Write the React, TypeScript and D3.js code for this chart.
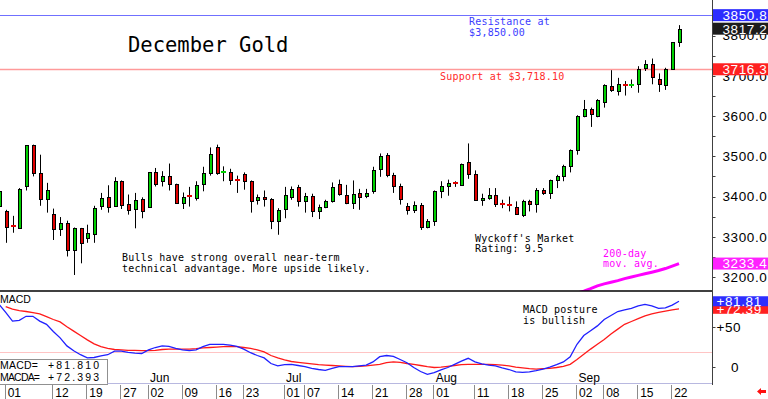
import * as d3 from "d3";

const W = 768;
const H = 399;

// bars start on Apr 30 (index -1), index 0 = May 01, last bar = Sep 23
const FIRST = -1;

const opens = [3377, 3365, 3326, 3323, 3427, 3527, 3459, 3394, 3357, 3319, 3335, 3266, 3321, 3296, 3306, 3377, 3400, 3377, 3438, 3382, 3370, 3394,
  3375, 3460, 3438, 3450, 3431, 3385, 3401, 3396, 3432, 3459, 3522, 3459, 3460, 3441, 3456, 3438, 3392, 3400, 3394, 3338,
  3369, 3400, 3423, 3388, 3402, 3365, 3375, 3388, 3432, 3404, 3384, 3409, 3402, 3413, 3469, 3502, 3454, 3427, 3377, 3367, 3380, 3324,
  3340, 3414, 3427, 3433, 3429, 3485, 3456, 3392, 3396, 3404, 3381, 3380, 3375, 3355, 3390, 3382, 3417, 3409, 3442, 3450, 3475,
  3515, 3600, 3618, 3600, 3635, 3675, 3662, 3677, 3675, 3679, 3720, 3729, 3693, 3676, 3718, 3783];
const highs = [3420, 3367, 3352, 3421, 3528, 3529, 3504, 3434, 3370, 3349, 3340, 3323, 3322, 3330, 3377, 3409, 3428, 3448, 3440, 3405, 3409, 3398,
  3461, 3471, 3463, 3482, 3432, 3410, 3424, 3438, 3474, 3522, 3529, 3475, 3469, 3452, 3460, 3440, 3405, 3415, 3396, 3371,
  3424, 3425, 3429, 3409, 3407, 3380, 3392, 3435, 3442, 3429, 3440, 3419, 3419, 3474, 3507, 3508, 3459, 3432, 3384, 3388, 3384, 3344,
  3415, 3438, 3442, 3438, 3482, 3532, 3465, 3407, 3421, 3421, 3392, 3400, 3388, 3392, 3392, 3421, 3421, 3442, 3454, 3479, 3517,
  3602, 3640, 3621, 3642, 3679, 3714, 3695, 3687, 3691, 3724, 3739, 3743, 3706, 3720, 3784, 3826];
const lows = [3370, 3285, 3310, 3321, 3415, 3450, 3377, 3360, 3292, 3302, 3251, 3205, 3234, 3285, 3285, 3367, 3360, 3375, 3369, 3355, 3321, 3346,
  3373, 3425, 3425, 3415, 3383, 3369, 3375, 3390, 3413, 3452, 3454, 3438, 3429, 3409, 3417, 3360, 3380, 3375, 3319, 3305,
  3346, 3392, 3375, 3360, 3349, 3344, 3371, 3385, 3402, 3381, 3369, 3367, 3396, 3407, 3449, 3448, 3409, 3380, 3355, 3359, 3317, 3321,
  3327, 3396, 3402, 3424, 3428, 3444, 3390, 3377, 3392, 3374, 3371, 3363, 3355, 3349, 3363, 3360, 3404, 3394, 3421, 3438, 3460,
  3504, 3597, 3573, 3597, 3621, 3660, 3651, 3651, 3670, 3658, 3712, 3679, 3660, 3665, 3716, 3772];
const closes = [3413, 3325, 3324, 3419, 3527, 3459, 3394, 3415, 3319, 3335, 3266, 3321, 3284, 3310, 3371, 3396, 3375, 3439, 3380, 3367, 3392, 3365,
  3460, 3432, 3452, 3431, 3385, 3398, 3399, 3429, 3459, 3506, 3459, 3461, 3440, 3439, 3438, 3390, 3398, 3394, 3338, 3367,
  3404, 3419, 3390, 3402, 3363, 3375, 3388, 3423, 3406, 3384, 3407, 3400, 3410, 3465, 3500, 3454, 3427, 3394, 3367, 3380, 3325, 3340,
  3414, 3427, 3434, 3431, 3481, 3456, 3392, 3396, 3404, 3382, 3379, 3376, 3356, 3390, 3382, 3415, 3409, 3440, 3450, 3475, 3515,
  3600, 3618, 3604, 3640, 3676, 3664, 3679, 3675, 3677, 3718, 3729, 3696, 3679, 3718, 3783, 3817.2];

// 200-day moving average, from index 84 (Sep 02) on
const maStart = 84;
const ma200 = [3160, 3165, 3171, 3178, 3183, 3187, 3191, 3196, 3200, 3204, 3208, 3212, 3216, 3221, 3227, 3233.4];

// MACD from index -1, signal (MACDA) from index 0
const macd = [78, 68, 57, 58, 63, 63, 57, 53, 44, 36, 26, 20, 15, 11, 11.5, 13.5, 15, 19.5, 19.5, 18, 17, 16.5,
  21, 24, 26, 25.5, 23, 21, 20, 21, 25, 28, 28, 28, 27, 25.5, 22, 17.5, 14, 11, 4, 1,
  2.5, 3, 1.5, 0, -2, -3.5, -4.5, -2, 0, 0, 0, 1, 2, 6, 12.5, 14, 13, 9, 5, -1, -6, -9.5,
  -7.5, -4, -1, 3, 7, 10.5, 6, 3.5, 2, 1, -1.5, -3.5, -6.5, -7, -6.5, -5, -3, -0.5, 2.5, 6, 12.5,
  28, 39, 45, 51, 59, 64, 69, 71, 73, 76, 78, 76, 73, 73.5, 77, 81.81];
const signal = [75, 72, 70, 69, 67.5, 66, 62.5, 59, 56, 50, 44.5, 39, 33.5, 28.5, 25, 23, 21.5, 21, 20.5, 20.3, 20,
  20, 20.5, 21.5, 22, 22, 22, 22, 22.5, 23.5, 24, 24.5, 25, 25.5, 25, 24, 23, 21, 18.5, 14, 11,
  8.5, 6.5, 5.5, 4.5, 3.5, 2.5, 2, 1.5, 1, 0.5, 0, 0.5, 1, 2, 3, 5, 6, 5.5, 4, 3, 1.5, 0,
  -1, -0.5, 0.5, 1.5, 2.5, 3, 3, 3, 3, 2.5, 2, 1, -0.5, -1.5, -2.5, -3, -2.5, -2, -1, 0.5, 3,
  9, 15.5, 22, 28, 34, 41, 47, 53, 56.5, 60, 63.5, 66, 68, 69.5, 71, 72.39];

const tickIdx = [0, 7, 12, 17, 21, 26, 31, 35, 41, 44, 49, 54, 59, 63, 69, 74, 79, 84, 88, 93, 98];
const tickLabels = ["01", "12", "19", "27", "02", "09", "16", "23", "01", "07", "14", "21", "28", "01", "11", "18", "25", "02", "08", "15", "22"];
const monthIdx = [21, 41, 63, 84];
const monthLabels = ["Jun", "Jul", "Aug", "Sep"];
const priceTicks = [3200, 3300, 3400, 3500, 3600, 3700, 3800];

const GREEN = "#00d000";
const RED = "#e00000";
const MONO = "'DejaVu Sans Mono', monospace";
const SANS = "'Liberation Sans', Arial, sans-serif";

export default function App() {
  const x = d3.scaleLinear().domain([0, 99]).range([5.7, 679]);
  const y = d3.scaleLinear().domain([3200, 3800]).range([277, 35.6]);
  const ym = d3.scaleLinear().domain([0, 50]).range([366.7, 326.7]);
  const AX = 712.5;
  const PB = 291;

  const macdLine = d3.line<number>().x((_, k) => x(k - 1)).y((v) => ym(v));
  const sigLine = d3.line<number>().x((_, k) => x(k)).y((v) => ym(v));
  const maLine = d3.line<number>().x((_, k) => x(k + maStart)).y((v) => y(v));

  const minorTicks = d3.range(3200, 3851, 50);

  const box = (yy: number, fill: string, label: string) => (
    <g>
      <rect x={713} y={yy - 6} width={56} height={12} fill={fill} />
      <text x={722.5} y={yy} dy="0.36em" fill="#fff" fontSize={13.5} letterSpacing={0.6} fontFamily={SANS}>{label}</text>
    </g>
  );

  return (
    <div>
      <style>{`body{margin:0}`}</style>
      <svg width={W} height={H} style={{ display: "block", background: "#fff" }}>
        <defs>
          <clipPath id="pricePanel"><rect x={0} y={0} width={AX} height={PB} /></clipPath>
        </defs>

        {/* support / resistance */}
        <line x1={0} x2={AX} y1={Math.round(y(3850.8)) + 0.5} y2={Math.round(y(3850.8)) + 0.5} stroke="#7070ff" />
        <line x1={0} x2={AX} y1={Math.round(y(3716.3)) + 0.5} y2={Math.round(y(3716.3)) + 0.5} stroke="#ff9a9a" strokeWidth={1.5} />

        {/* candles */}
        <g clipPath="url(#pricePanel)">
          {opens.map((o, k) => {
            const px = Math.round(x(k + FIRST));
            const c = closes[k];
            const col = c >= o ? GREEN : RED;
            const top = Math.round(y(Math.max(o, c)));
            const bot = Math.round(y(Math.min(o, c)));
            return (
              <g key={k}>
                <line x1={px + 0.5} x2={px + 0.5} y1={y(highs[k])} y2={y(lows[k])} stroke="#000" />
                {bot - top <= 1 ? (
                  <rect x={px - 2} y={top - 1} width={5} height={2} fill={col} />
                ) : (
                  <g>
                    <rect x={px - 1} y={top} width={4} height={bot - top + 1} fill="#000" />
                    <rect x={px} y={top + 1} width={2} height={bot - top - 1} fill={col} />
                  </g>
                )}
              </g>
            );
          })}
          <path d={maLine(ma200) ?? ""} fill="none" stroke="#ff00ff" strokeWidth={3} />
        </g>

        {/* annotations */}
        <text x={128} y={52} fontFamily={MONO} fontSize={20.5}>December Gold</text>
        <g fontFamily={MONO} fontSize={10} letterSpacing={0.2}>
          <text x={469} y={25} fill="#3c3cff">Resistance at</text>
          <text x={469} y={35.5} fill="#3c3cff">$3,850.00</text>
          <text x={440} y={80} fill="#ff2a2a">Support at $3,718.10</text>
          <text x={122} y={261}>Bulls have strong overall near-term</text>
          <text x={122} y={271.5}>technical advantage. More upside likely.</text>
          <text x={475} y={241.5}>Wyckoff's Market</text>
          <text x={475} y={251.5}>Rating: 9.5</text>
          <text x={603} y={256.5} fill="#ff00ff">200-day</text>
          <text x={603} y={267} fill="#ff00ff">mov. avg.</text>
          <text x={523} y={313}>MACD posture</text>
          <text x={523} y={323.5}>is bullish</text>
        </g>

        {/* panel divider */}
        <line x1={0} x2={AX} y1={PB} y2={PB} stroke="#000" strokeWidth={1.5} />

        {/* MACD panel */}
        <line x1={0} x2={AX} y1={Math.round(ym(19)) + 0.5} y2={Math.round(ym(19)) + 0.5} stroke="#ffc4c4" />
        <path d={sigLine(signal) ?? ""} fill="none" stroke="#ff1a1a" strokeWidth={1.3} />
        <path d={macdLine(macd) ?? ""} fill="none" stroke="#2020ff" strokeWidth={1.3} />
        <text x={0} y={303} fontFamily={SANS} fontSize={10.5}>MACD</text>

        {/* legend box */}
        <rect x={-1} y={359.5} width={108.5} height={25} fill="#fff" stroke="#909090" />
        <g fontFamily={SANS} fontSize={10.5}>
          <text x={0} y={369} textLength={38} lengthAdjust="spacing">MACD=</text>
          <text x={48} y={369} textLength={51} lengthAdjust="spacing">+81.810</text>
          <text x={0} y={380.5} textLength={40} lengthAdjust="spacing">MACDA=</text>
          <text x={48} y={380.5} textLength={51} lengthAdjust="spacing">+72.393</text>
        </g>

        {/* bottom date axis */}
        <line x1={107.5} x2={AX} y1={383.5} y2={383.5} stroke="#b8b8e0" />
        {monthIdx.map((d, k) => (
          <text key={k} x={x(d) + 1.5} y={382} fontFamily={SANS} fontSize={12}>{monthLabels[k]}</text>
        ))}
        {tickIdx.map((d, k) => (
          <g key={k}>
            <line x1={Math.round(x(d)) - 0.5} x2={Math.round(x(d)) - 0.5} y1={385} y2={399} stroke="#8c8c8c" />
            <text x={x(d) + 2} y={397} fontFamily={SANS} fontSize={12}>{tickLabels[k]}</text>
          </g>
        ))}

        {/* right price axis */}
        <line x1={AX} x2={AX} y1={0} y2={385} stroke="#404040" />
        {minorTicks.map((v) => (
          <line key={v} x1={AX} x2={AX + 3} y1={Math.round(y(v)) + 0.5} y2={Math.round(y(v)) + 0.5} stroke="#404040" />
        ))}
        {priceTicks.map((v) => (
          <text key={v} x={722.5} y={y(v)} dy="0.36em" fontFamily={SANS} fontSize={13.5} letterSpacing={0.6}>{v.toFixed(1)}</text>
        ))}
        {box(y(3850.8), "#2d2dff", "3850.8")}
        {box(y(3817.2), "#1c1c1c", "3817.2")}
        {box(y(3716.3), "#ff2020", "3716.3")}
        {box(y(3233.4), "#ff22ff", "3233.4")}

        {/* MACD axis */}
        {[0, 50].map((v) => (
          <line key={v} x1={AX} x2={AX + 3} y1={Math.round(ym(v)) + 0.5} y2={Math.round(ym(v)) + 0.5} stroke="#404040" />
        ))}
        <text x={716.5} y={ym(50)} dy="0.36em" fontFamily={SANS} fontSize={13.5} letterSpacing={0.6}>+50</text>
        <text x={731} y={ym(0)} dy="0.36em" fontFamily={SANS} fontSize={13.5} letterSpacing={0.6}>0</text>
        <rect x={713} y={ym(72.39) - 5} width={56} height={10} fill="#ff2020" />
        <text x={716.5} y={ym(72.39)} dy="0.36em" fill="#fff" fontSize={13.5} letterSpacing={0.6} fontFamily={SANS}>+72.39</text>
        <rect x={713} y={ym(81.81) - 5} width={56} height={10} fill="#2d2dff" />
        <text x={716.5} y={ym(81.81)} dy="0.36em" fill="#fff" fontSize={13.5} letterSpacing={0.6} fontFamily={SANS}>+81.81</text>

        {/* scroll arrow */}
        <path d="M757,391.5 L761,388 L761,390 L766,390 L766,393 L761,393 L761,395 Z" fill="#ff1010" />
      </svg>
    </div>
  );
}
